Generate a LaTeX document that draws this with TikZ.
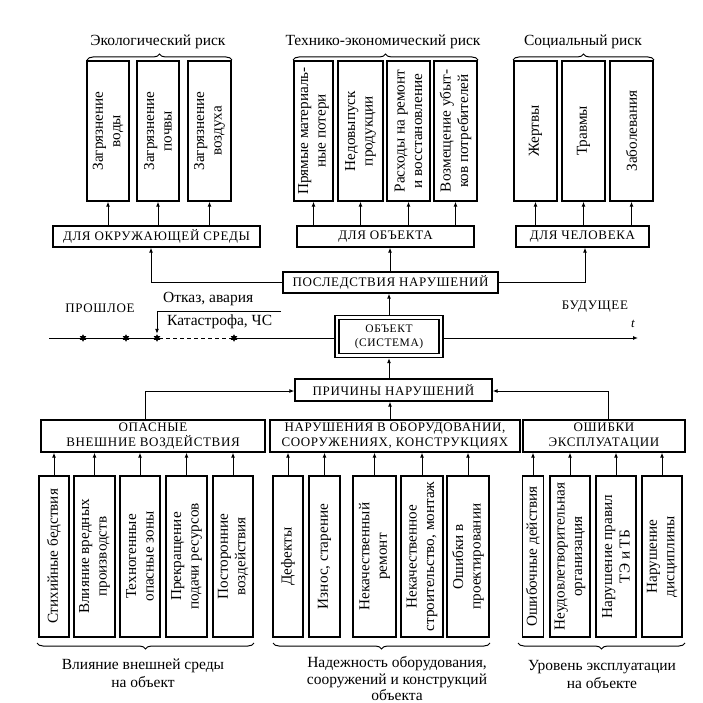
\documentclass[tikz,border=0pt]{standalone}
\usepackage{fontspec}
\setmainfont{Liberation Serif}
\newfontfamily\capsfont[LetterSpace=5]{Liberation Serif}
\usetikzlibrary{arrows.meta,decorations.pathreplacing,shapes.geometric}
\begin{document}
\begin{tikzpicture}[x=1pt,y=-1pt,
 box/.style={draw, line width=1.3pt, inner sep=0pt},
 vb/.style 2 args={box, rotate=90, align=center, font=\fontsize{15.2}{17.5}\selectfont, minimum width=#1, minimum height=#2},
 cbox/.style={box, align=center, font=\capsfont\fontsize{13}{15}\selectfont},
 arr/.style={line width=1pt, -{Latex[length=5pt,width=4pt]}},
 ln/.style={line width=1pt},
 brc/.style={decorate, decoration={brace, amplitude=6pt}, line width=1pt},
 brcm/.style={decorate, decoration={brace, mirror, amplitude=6pt}, line width=1pt},
 lbl/.style={font=\fontsize{15.5}{18}\selectfont, align=center},
 caps/.style={font=\capsfont\fontsize{13}{15}\selectfont},
 mk/.style={star, star points=6, star point ratio=1.8, fill, inner sep=0pt, minimum size=7.5pt}
]
\useasboundingbox (0,0) rectangle (702,703);

% ---------- top labels and braces
\node[lbl] (eco) at (158,42) {Экологический риск};
\node[lbl] (tech) at (383,42) {Технико-экономический риск};
\node[lbl] (soc) at (583,42) {Социальный риск};
\draw[brc] (87,60) -- (232,60);
\draw[brc] (293,60) -- (478,60);
\draw[brc] (513,60) -- (654,60);

% ---------- top vertical boxes
\node[vb={140}{42}] (e1) at (108,131) {Загрязнение\\воды};
\node[vb={140}{42}] (e2) at (158,131) {Загрязнение\\почвы};
\node[vb={140}{43}] (e3) at (209.5,131) {Загрязнение\\воздуха};

\node[vb={140}{39}] (t1) at (313.5,131) {Прямые материаль-\\ные потери};
\node[vb={140}{45}] (t2) at (360.5,131) {Недовыпуск\\продукции};
\node[vb={140}{43}] (t3) at (408.5,131) {Расходы на ремонт\\и восстановление};
\node[vb={140}{43}] (t4) at (455.5,131) {Возмещение убыт-\\ков потребителей};

\node[vb={140}{43}] (s1) at (535.5,131) {Жертвы};
\node[vb={140}{43}] (s2) at (583.5,131) {Травмы};
\node[vb={140}{43}] (s3) at (631.5,131) {Заболевания};

% ---------- "for" boxes
\node[cbox, minimum width=207, minimum height=21] (env) at (156.5,236.5) {ДЛЯ ОКРУЖАЮЩЕЙ СРЕДЫ};
\node[cbox, minimum width=177, minimum height=21] (obj) at (385.5,236.5) {ДЛЯ ОБЪЕКТА};
\node[cbox, minimum width=133, minimum height=21] (hum) at (582.5,236.5) {ДЛЯ ЧЕЛОВЕКА};

\foreach \b in {e1,e2,e3}{\draw[arr] (\b.west |- env.north) -- (\b.west);}
\foreach \b in {t1,t2,t3,t4}{\draw[arr] (\b.west |- obj.north) -- (\b.west);}
\foreach \b in {s1,s2,s3}{\draw[arr] (\b.west |- hum.north) -- (\b.west);}

% ---------- consequences
\node[cbox, minimum width=215, minimum height=21] (posl) at (390.5,282.5) {ПОСЛЕДСТВИЯ НАРУШЕНИЙ};
\coordinate (pl) at (151,282.5);
\coordinate (pr) at (585,282.5);
\draw[arr] (posl.west) -- (pl) -- (pl |- env.south);
\draw[arr] (posl.east) -- (pr) -- (pr |- hum.south);
\draw[arr] (posl.north -| 390,0) -- (390,0 |- obj.south);

% ---------- object and time axis
\node[box, minimum width=108, minimum height=42, align=center,
      font=\capsfont\fontsize{11.5}{14}\selectfont] (sys) at (389,336.5) {ОБЪЕКТ\\(СИСТЕМА)};
\node[draw, line width=1.1pt, inner sep=0pt, minimum width=100, minimum height=34] (sysin) at (389,336.5) {};
\draw[arr] (sys.north) -- (sys.north |- posl.south);

\coordinate (ax0) at (49,338);
\coordinate (ax1) at (638,338);
\node[mk] (m1) at (83,338) {};
\node[mk] (m2) at (126,338) {};
\node[mk] (m3) at (157,338) {};
\node[mk] (m4) at (234,338) {};
\draw[ln] (ax0) -- (m1) -- (m2) -- (m3);
\draw[ln, dash pattern=on 4pt off 3pt] (m3) -- (m4);
\draw[ln] (m4) -- (sys.west |- m4);
\draw[arr] (sys.east |- ax1) -- (ax1);
\node[font=\itshape\fontsize{13}{13}\selectfont] (tt) at (633,324) {t};

\node[caps] (past) at (100,308) {ПРОШЛОЕ};
\node[caps] (fut) at (595,307) {БУДУЩЕЕ};
\node[lbl, anchor=west, inner sep=0pt] (otk) at (163,299) {Отказ, авария};
\node[lbl, anchor=west, inner sep=0pt] (kat) at (167,322) {Катастрофа, ЧС};
\coordinate (k0) at (157,311);
\coordinate (k1) at (281,311);
\draw[ln] (k1) -- (k0);
\draw[arr] (k0) -- (m3.north);

% ---------- causes
\node[cbox, minimum width=197, minimum height=22] (prich) at (393.5,390) {ПРИЧИНЫ НАРУШЕНИЙ};
\draw[arr] (sys.south |- prich.north) -- (sys.south);

\node[cbox, minimum width=224, minimum height=32] (op) at (153,436) {ОПАСНЫЕ\\ВНЕШНИЕ ВОЗДЕЙСТВИЯ};
\node[cbox, minimum width=250, minimum height=32] (nar) at (395,436) {НАРУШЕНИЯ В ОБОРУДОВАНИИ,\\СООРУЖЕНИЯХ, КОНСТРУКЦИЯХ};
\node[cbox, minimum width=162, minimum height=32] (osh) at (604,436) {ОШИБКИ\\ЭКСПЛУАТАЦИИ};

\coordinate (cl) at (145,391);
\coordinate (cr) at (608,391);
\draw[arr] (cl |- op.north) -- (cl) -- (prich.west |- cl);
\draw[arr] (cr |- osh.north) -- (cr) -- (prich.east |- cr);
\draw[arr] (390,0 |- nar.north) -- (390,0 |- prich.south);

% ---------- bottom vertical boxes
\node[vb={161}{30}] (a1) at (54,556.5) {Стихийные бедствия};
\node[vb={161}{41}] (a2) at (94.5,556.5) {Влияние вредных\\производств};
\node[vb={161}{40}] (a3) at (140,556.5) {Техногенные\\опасные зоны};
\node[vb={161}{41}] (a4) at (186.5,556.5) {Прекращение\\подачи ресурсов};
\node[vb={161}{40}] (a5) at (233,556.5) {Посторонние\\воздействия};

\node[vb={161}{30}] (b1) at (288,556.5) {Дефекты};
\node[vb={161}{31}] (b2) at (324.5,556.5) {Износ, старение};
\node[vb={161}{43}] (b3) at (374.5,556.5) {Некачественный\\ремонт};
\node[vb={161}{42}] (b4) at (422,556.5) {Некачественное\\строительство, монтаж};
\node[vb={161}{42}] (b5) at (468,556.5) {Ошибки в\\проектировании};

\node[vb={161}{21}] (c1) at (533,556.5) {Ошибочные действия};
\node[vb={161}{40}] (c2) at (570,556.5) {Неудовлетворительная\\организация};
\node[vb={161}{40}] (c3) at (616,556.5) {Нарушение правил\\ТЭ и ТБ};
\node[vb={161}{40}] (c4) at (662,556.5) {Нарушение\\дисциплины};

\foreach \b in {a1,a2,a3,a4,a5}{\draw[arr] (\b.east) -- (\b.east |- op.south);}
\foreach \b in {b1,b2,b3,b4,b5}{\draw[arr] (\b.east) -- (\b.east |- nar.south);}
\foreach \b in {c1,c2,c3,c4}{\draw[arr] (\b.east) -- (\b.east |- osh.south);}

% ---------- bottom braces and labels
\draw[brcm] (37,643) -- (254,643);
\draw[brcm] (273,643) -- (490,643);
\draw[brcm] (518,643) -- (685,643);
\node[lbl] (bl1) at (143,673.5) {Влияние внешней среды\\на объект};
\node[lbl, font=\fontsize{15.5}{16.5}\selectfont] (bl2) at (397,679) {Надежность оборудования,\\сооружений и конструкций\\объекта};
\node[lbl] (bl3) at (602,674) {Уровень эксплуатации\\на объекте};
\end{tikzpicture}
\end{document}
